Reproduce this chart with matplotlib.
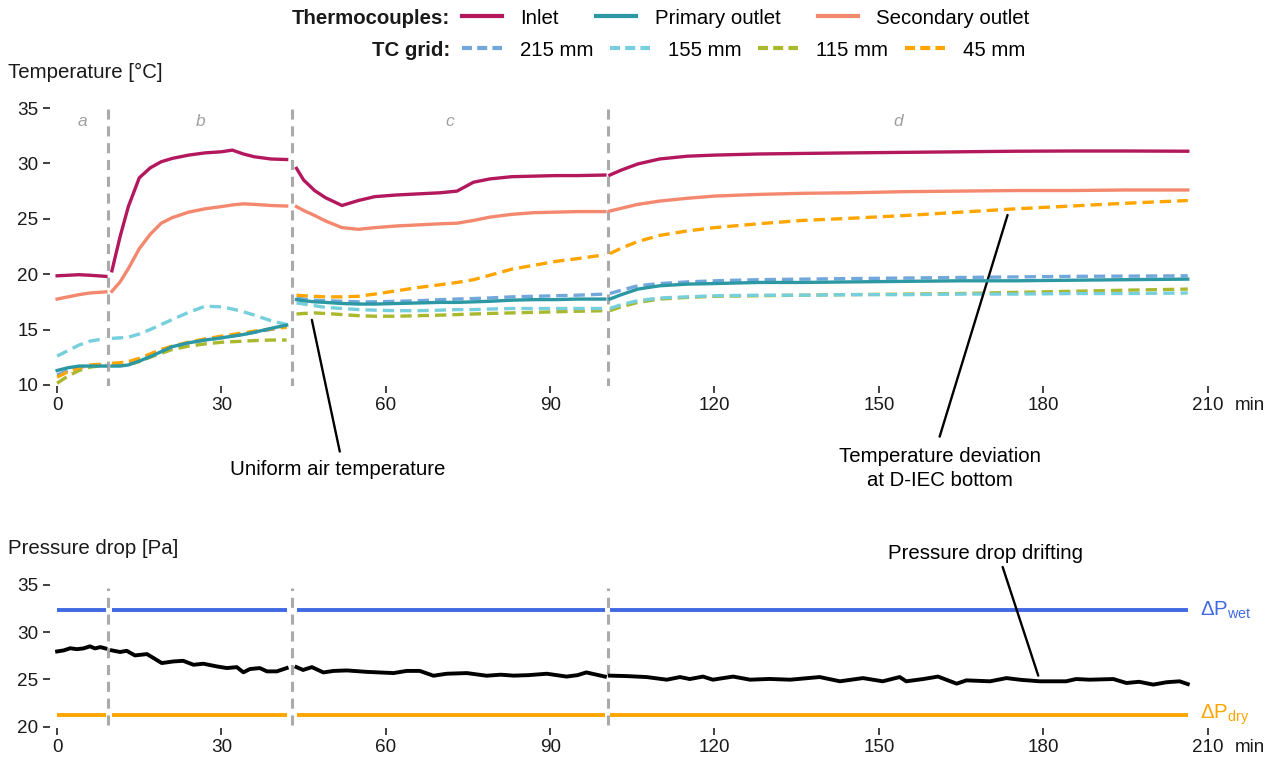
import numpy as np
import matplotlib
matplotlib.use("Agg")
import matplotlib.pyplot as plt
from matplotlib.lines import Line2D

plt.rcParams['font.family'] = ['Liberation Sans', 'DejaVu Sans']
plt.rcParams['mathtext.fontset'] = 'custom'
plt.rcParams['mathtext.rm'] = 'Liberation Sans'
plt.rcParams['mathtext.it'] = 'Liberation Sans:italic'

nan = np.nan

# ---------------- data ----------------
# phase boundaries (min) and phase labels
phase_bounds = [9.3, 42.9, 100.6]
phase_labels = ['a', 'b', 'c', 'd']
phase_span = [0, 9.3, 42.9, 100.6, 206.4]

# segments where measurements are shown
seg_start = [0, 10, 43.7, 100.9]
seg_end = [8.9, 41.9, 100, 206.4]

# temperature time grid (nan = break between phases)
t_temp = [0, 2, 4, 6, 8.9, nan,
          10, 11.5, 13, 15, 17, 19, 21, 24, 27, 30, 32, 34, 36, 39, 41.9, nan,
          43.7, 45, 47, 49, 52, 55, 58, 62, 66, 70, 73, 76, 79, 83, 87, 91, 95, 100, nan,
          100.9, 103, 106, 110, 115, 120, 128, 136, 145, 155, 165, 175, 185, 195, 206.4]

inlet = [19.85, 19.9, 19.95, 19.9, 19.8, nan,
         20.3, 23.4, 26.1, 28.7, 29.6, 30.15, 30.45, 30.75, 30.95, 31.05, 31.2, 30.85, 30.6, 30.4, 30.35, nan,
         29.55, 28.5, 27.55, 26.9, 26.2, 26.65, 27.0, 27.15, 27.25, 27.35, 27.5, 28.3, 28.6, 28.8, 28.85, 28.9, 28.9, 28.95, nan,
         28.95, 29.4, 29.95, 30.4, 30.65, 30.75, 30.85, 30.9, 30.95, 31.0, 31.05, 31.1, 31.12, 31.12, 31.1]

primary = [11.3, 11.55, 11.7, 11.7, 11.7, nan,
           11.7, 11.7, 11.8, 12.15, 12.55, 13.0, 13.45, 13.8, 14.05, 14.25, 14.4, 14.55, 14.75, 15.1, 15.4, nan,
           17.7, 17.6, 17.5, 17.45, 17.35, 17.3, 17.3, 17.35, 17.4, 17.45, 17.45, 17.5, 17.55, 17.65, 17.7, 17.7, 17.75, 17.75, nan,
           17.75, 18.15, 18.65, 18.95, 19.1, 19.15, 19.25, 19.25, 19.3, 19.35, 19.4, 19.4, 19.45, 19.5, 19.55]

secondary = [17.75, 17.95, 18.15, 18.3, 18.4, nan,
             18.45, 19.3, 20.5, 22.3, 23.6, 24.6, 25.1, 25.6, 25.9, 26.1, 26.25, 26.35, 26.3, 26.2, 26.15, nan,
             26.1, 25.75, 25.3, 24.8, 24.2, 24.05, 24.2, 24.35, 24.45, 24.55, 24.6, 24.85, 25.15, 25.4, 25.55, 25.6, 25.65, 25.65, nan,
             25.7, 25.95, 26.3, 26.6, 26.85, 27.05, 27.2, 27.3, 27.35, 27.45, 27.5, 27.55, 27.55, 27.6, 27.6]

grid_215 = [10.9, 11.3, 11.6, 11.75, 11.8, nan,
            11.9, 11.9, 12.0, 12.3, 12.7, 13.1, 13.45, 13.8, 14.05, 14.25, 14.4, 14.55, 14.75, 15.0, 15.3, nan,
            17.85, 17.75, 17.65, 17.6, 17.55, 17.5, 17.5, 17.55, 17.6, 17.7, 17.75, 17.8, 17.85, 17.95, 18.0, 18.05, 18.1, 18.2, nan,
            18.25, 18.55, 18.95, 19.15, 19.3, 19.4, 19.5, 19.55, 19.6, 19.65, 19.7, 19.75, 19.8, 19.82, 19.85]

grid_155 = [12.6, 13.1, 13.6, 13.95, 14.2, nan,
            14.2, 14.25, 14.3, 14.6, 15.0, 15.45, 15.9, 16.55, 17.1, 17.05, 16.85, 16.6, 16.3, 15.8, 15.45, nan,
            17.4, 17.3, 17.15, 17.0, 16.9, 16.8, 16.75, 16.7, 16.7, 16.75, 16.8, 16.8, 16.85, 16.9, 16.9, 16.9, 16.9, 16.9, nan,
            16.9, 17.25, 17.6, 17.85, 17.95, 18.05, 18.1, 18.1, 18.15, 18.15, 18.2, 18.2, 18.25, 18.25, 18.3]

grid_115 = [10.15, 10.8, 11.3, 11.6, 11.8, nan,
            11.8, 11.8, 11.85, 12.1, 12.5, 12.85, 13.2, 13.5, 13.7, 13.85, 13.9, 13.95, 14.0, 14.05, 14.05, nan,
            16.4, 16.45, 16.5, 16.45, 16.35, 16.25, 16.2, 16.2, 16.25, 16.3, 16.35, 16.4, 16.45, 16.5, 16.55, 16.6, 16.65, 16.7, nan,
            16.7, 17.05, 17.45, 17.75, 17.9, 18.0, 18.05, 18.1, 18.15, 18.2, 18.25, 18.35, 18.45, 18.55, 18.65]

grid_45 = [10.7, 11.2, 11.55, 11.8, 11.9, nan,
           11.95, 12.0, 12.1, 12.4, 12.8, 13.2, 13.5, 13.85, 14.15, 14.4, 14.55, 14.7, 14.85, 15.05, 15.2, nan,
           18.1, 18.05, 18.0, 17.95, 17.95, 18.0, 18.2, 18.5, 18.8, 19.05, 19.25, 19.5, 19.9, 20.45, 20.8, 21.15, 21.4, 21.75, nan,
           21.85, 22.35, 22.95, 23.5, 23.9, 24.2, 24.55, 24.85, 25.05, 25.3, 25.6, 25.9, 26.15, 26.4, 26.65]

# pressure drop
t_press = [0, 1.2, 2.4, 3.6, 4.8, 6, 6.9, 7.9, 8.8, nan,
           10, 11.5, 12.7, 14.2, 16.4, 17.6, 19.1, 21.2, 23, 24.9, 26.7, 29.1, 31, 32.8, 34, 35.2, 37, 38.3, 40.1, 41.9, nan,
           43.7, 44.9, 46.5, 48.6, 50.5, 52.9, 56.5, 61.4, 63.8, 66.2, 68.7, 71.1, 74.8, 78.4, 81, 83.3, 86, 89.4, 93, 95, 96.6, 100, nan,
           100.9, 104, 107.6, 111.3, 113.7, 115.5, 117.9, 119.7, 123.4, 126.5, 130, 133.8, 139.2, 142.9, 147.1, 150.7,
           153.8, 155, 158.1, 160.8, 164.2, 166, 170.3, 173.3, 176, 179.4, 184.2, 186, 188.5, 192.8, 195.2, 197.5,
           200.1, 202.5, 204.9, 206.4]
pressure = [27.96, 28.07, 28.3, 28.2, 28.28, 28.5, 28.28, 28.42, 28.28, nan,
            28.07, 27.9, 28.03, 27.54, 27.68, 27.26, 26.73, 26.9, 26.97, 26.55, 26.66, 26.38, 26.2, 26.3, 25.75, 26.1, 26.2, 25.85, 25.85, 26.2, nan,
            26.3, 26.0, 26.3, 25.74, 25.9, 25.95, 25.8, 25.67, 25.9, 25.9, 25.39, 25.6, 25.67, 25.39, 25.5, 25.4, 25.45, 25.6, 25.3, 25.45, 25.74, 25.3, nan,
            25.4, 25.35, 25.25, 24.97, 25.25, 25.04, 25.3, 24.97, 25.3, 24.97, 25.05, 24.97, 25.25, 24.8, 25.14, 24.8,
            25.25, 24.8, 25.04, 25.3, 24.55, 24.9, 24.8, 25.14, 24.95, 24.8, 24.8, 25.04, 24.97, 25.04, 24.62, 24.75,
            24.45, 24.7, 24.8, 24.5]
dp_wet = 32.35
dp_dry = 21.25

x_ticks = [0, 30, 60, 90, 120, 150, 180, 210]
temp_ticks = [10, 15, 20, 25, 30, 35]
press_ticks = [20, 25, 30, 35]

# ---------------- styles ----------------
C_INLET = '#b3175e'
C_PRIM = '#2b98a4'
C_SEC = '#f4886f'
C_215 = '#72a7dc'
C_155 = '#76cfdc'
C_115 = '#a9b82c'
C_45 = '#ffa500'
C_WET = '#4169e1'
C_DRY = '#ffa500'
C_VL = '#aaaaaa'
DASH = (0, (3.4, 1.8))
LEG_DASH = (0, (2.4, 1.25))
LW = 2.4
FS = 14.7
TFS = 13.6

W, H = 1283, 762
fig = plt.figure(figsize=(W / 100, H / 100), dpi=100)

def px_rect(left, right, top, bottom):
    return [left / W, 1 - bottom / H, (right - left) / W, (bottom - top) / H]

ax1 = fig.add_axes(px_rect(50, 1213, 102.5, 386))
ax2 = fig.add_axes(px_rect(50, 1213, 580.2, 727.6))

for ax in (ax1, ax2):
    for s in ax.spines.values():
        s.set_visible(False)
    ax.set_xlim(-1.3, 211)
    ax.set_xticks(x_ticks)
    ax.tick_params(axis='both', length=5, width=1.3, color='#333333',
                   labelsize=TFS, labelcolor='#1a1a1a', pad=3.2)
    ax.set_facecolor('none')

ax1.set_ylim(9.9, 35.5)
ax1.set_yticks(temp_ticks)
ax2.set_ylim(19.9, 35.5)
ax2.set_yticks(press_ticks)

# phase separators
ax1.vlines(phase_bounds, 9.7, 35, colors=C_VL, linestyles=(0, (3.3, 2.2)), lw=2.2, zorder=1)
ax2.vlines(phase_bounds, 20.2, 34.7, colors=C_VL, linestyles=(0, (3.3, 2.2)), lw=2.2, zorder=1)

# phase labels
for i, lab in enumerate(phase_labels):
    mid = (phase_span[i] + phase_span[i + 1]) / 2
    ax1.text(mid, 33.75, lab, ha='center', va='center', fontsize=12.5,
             style='italic', color='#a0a0a0')

# temperature curves
t = np.array(t_temp, dtype=float)
ax1.plot(t, np.array(grid_115, float), color=C_115, lw=LW, ls=DASH, zorder=3)
ax1.plot(t, np.array(grid_155, float), color=C_155, lw=LW, ls=DASH, zorder=3)
ax1.plot(t, np.array(grid_215, float), color=C_215, lw=LW, ls=DASH, zorder=3)
ax1.plot(t, np.array(grid_45, float), color=C_45, lw=LW, ls=DASH, zorder=3)
ax1.plot(t, np.array(primary, float), color=C_PRIM, lw=LW, zorder=4)
ax1.plot(t, np.array(secondary, float), color=C_SEC, lw=LW, zorder=4)
ax1.plot(t, np.array(inlet, float), color=C_INLET, lw=LW, zorder=4)

# pressure
ax2.hlines([dp_wet] * 4, seg_start, seg_end, colors=C_WET, lw=2.8, zorder=2)
ax2.hlines([dp_dry] * 4, seg_start, seg_end, colors=C_DRY, lw=2.8, zorder=2)
ax2.plot(np.array(t_press, float), np.array(pressure, float), color='black', lw=2.8, zorder=3)

ax2.text(208.6, dp_wet, r'$\Delta\mathrm{P}_{\mathrm{wet}}$', color=C_WET, fontsize=FS,
         ha='left', va='center', clip_on=False)
ax2.text(208.6, dp_dry, r'$\Delta\mathrm{P}_{\mathrm{dry}}$', color=C_DRY, fontsize=FS,
         ha='left', va='center', clip_on=False)

# "min" unit next to 210
for ax in (ax1, ax2):
    ax.annotate('min', xy=(210, 0), xycoords=('data', 'axes fraction'),
                xytext=(19.5, -(5 / 1.389 + 4.6)), textcoords='offset points',
                ha='left', va='top', fontsize=TFS, color='#1a1a1a')

# annotations
line_kw = dict(arrowstyle='-', color='black', lw=1.7, shrinkA=0, shrinkB=0)
ax1.annotate('', xy=(46.5, 15.87), xytext=(51.6, 3.98), arrowprops=line_kw, annotation_clip=False)
ax1.text(51.3, 2.33, 'Uniform air temperature', ha='center', va='center', fontsize=FS, clip_on=False)
ax1.annotate('', xy=(173.5, 25.34), xytext=(161.1, 5.33), arrowprops=line_kw, annotation_clip=False)
ax1.text(161.1, 2.42, 'Temperature deviation\nat D-IEC bottom', ha='center', va='center',
         fontsize=FS, clip_on=False, linespacing=1.35)
ax2.annotate('', xy=(179.1, 25.4), xytext=(172.6, 36.9), arrowprops=line_kw, annotation_clip=False)
ax2.text(169.5, 38.35, 'Pressure drop drifting', ha='center', va='center', fontsize=FS, clip_on=False)

# axis titles
fig.text(8 / W, 1 - 72 / H, 'Temperature [°C]', ha='left', va='center', fontsize=FS, color='#1a1a1a')
fig.text(8 / W, 1 - 548 / H, 'Pressure drop [Pa]', ha='left', va='center', fontsize=FS, color='#1a1a1a')

# legends
h1 = [Line2D([], [], color=C_INLET, lw=LW + 0.6),
      Line2D([], [], color=C_PRIM, lw=LW + 0.6),
      Line2D([], [], color=C_SEC, lw=LW + 0.6)]
l1 = ['Inlet', 'Primary outlet', 'Secondary outlet']
h2 = [Line2D([], [], color=c, lw=LW + 0.6, ls=LEG_DASH) for c in (C_215, C_155, C_115, C_45)]
l2 = ['215 mm', '155 mm', '115 mm', '45 mm']

leg_kw = dict(frameon=False, loc='center left', borderpad=0, borderaxespad=0,
              handlelength=1.95, handletextpad=0.9, fontsize=FS)
leg1 = fig.legend(h1, l1, ncol=3, columnspacing=1.85,
                  bbox_to_anchor=(462 / W, 1 - 18 / H), **leg_kw)
leg2 = fig.legend(h2, l2, ncol=4, columnspacing=0.8,
                  bbox_to_anchor=(462 / W, 1 - 50 / H), **leg_kw)
fig.text(450 / W, 1 - 18 / H, 'Thermocouples:', ha='right', va='center',
         fontsize=FS, fontweight='bold', color='#1a1a1a')
fig.text(450 / W, 1 - 50 / H, 'TC grid:', ha='right', va='center',
         fontsize=FS, fontweight='bold', color='#1a1a1a')

fig.savefig('out.png', dpi=100, facecolor='white')
